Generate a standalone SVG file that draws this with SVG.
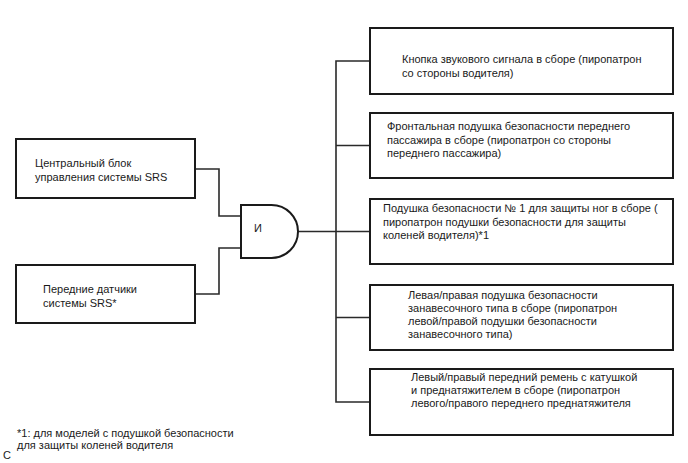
<svg xmlns="http://www.w3.org/2000/svg" width="688" height="463" viewBox="0 0 688 463">
<style>
.box{fill:#fff;stroke:#1a1a1a;stroke-width:2}
.ln{fill:none;stroke:#2a2a2a;stroke-width:1.6}
text{font-family:"Liberation Sans",Arial,sans-serif;font-size:11px;fill:#1a1a1a}
</style>
<rect width="688" height="463" fill="#fff"/>
<g id="connectors">
<polyline class="ln" points="195,169 219,169 219,216 241,216"/>
<polyline class="ln" points="195,294 219,294 219,248 241,248"/>
<line class="ln" x1="298" y1="231.5" x2="336" y2="231.5"/>
<polyline class="ln" points="370,61 336,61 336,402 370,402"/>
<line class="ln" x1="336" y1="145.5" x2="370" y2="145.5"/>
<line class="ln" x1="336" y1="231.5" x2="370" y2="231.5"/>
<line class="ln" x1="336" y1="317.5" x2="370" y2="317.5"/>
</g>
<g id="ecu">
<rect class="box" x="16" y="139" width="179" height="59"/>
<text x="35" y="167">Центральный блок</text>
<text x="35" y="181">управления системы SRS</text>
</g>
<g id="sensors">
<rect class="box" x="16" y="265" width="179" height="58"/>
<text x="43" y="293">Передние датчики</text>
<text x="43" y="307">системы SRS*</text>
</g>
<g id="and-gate">
<path class="box" d="M241,205 H271.5 A26.5,26.5 0 0 1 271.5,258 H241 Z"/>
<text x="254" y="232">И</text>
</g>
<g id="horn">
<rect class="box" x="370" y="28" width="303" height="66"/>
<text x="402" y="63">Кнопка звукового сигнала в сборе (пиропатрон</text>
<text x="402" y="77">со стороны водителя)</text>
</g>
<g id="passenger">
<rect class="box" x="370" y="113" width="303" height="65"/>
<text x="387" y="130">Фронтальная подушка безопасности переднего</text>
<text x="387" y="143.5">пассажира в сборе (пиропатрон со стороны</text>
<text x="387" y="157">переднего пассажира)</text>
</g>
<g id="knee">
<rect class="box" x="370" y="199" width="303" height="65"/>
<text x="383" y="212">Подушка безопасности № 1 для защиты ног в сборе (</text>
<text x="383" y="225.5">пиропатрон подушки безопасности для защиты</text>
<text x="383" y="239">коленей водителя)*1</text>
</g>
<g id="curtain">
<rect class="box" x="370" y="285" width="303" height="65"/>
<text x="408" y="299">Левая/правая подушка безопасности</text>
<text x="408" y="312">занавесочного типа в сборе (пиропатрон</text>
<text x="408" y="325">левой/правой подушки безопасности</text>
<text x="408" y="338">занавесочного типа)</text>
</g>
<g id="belt">
<rect class="box" x="370" y="369" width="303" height="66"/>
<text x="411" y="381">Левый/правый передний ремень с катушкой</text>
<text x="411" y="394">и преднатяжителем в сборе (пиропатрон</text>
<text x="411" y="407">левого/правого переднего преднатяжителя</text>
</g>
<g id="footnote">
<text x="17" y="437">*1: для моделей с подушкой безопасности</text>
<text x="17" y="449">для защиты коленей водителя</text>
<text x="3" y="459">C</text>
</g>
</svg>
